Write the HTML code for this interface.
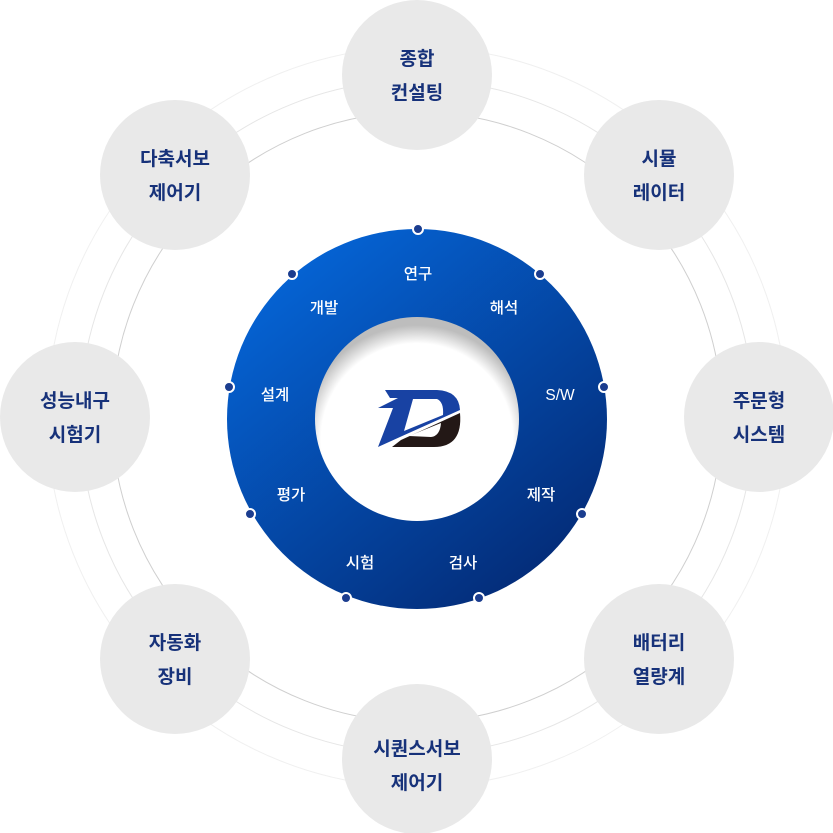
<!DOCTYPE html>
<html><head><meta charset="utf-8"><style>
html,body{margin:0;padding:0;background:#fff;width:833px;height:833px;overflow:hidden}
svg{display:block}
.s{font-family:"Liberation Sans","Noto Sans CJK KR",sans-serif;font-weight:700;font-size:19px;fill:#17327a;text-anchor:middle}
.w{font-family:"Liberation Sans","Noto Sans CJK KR",sans-serif;font-weight:500;font-size:15.5px;fill:#fff;text-anchor:middle}
</style></head><body>
<svg width="833" height="833" viewBox="0 0 833 833">
<defs>
<linearGradient id="g" x1="0.2" y1="0.1" x2="0.85" y2="0.9">
<stop offset="0" stop-color="#0562d2"/><stop offset="1" stop-color="#042c78"/>
</linearGradient>
<radialGradient id="sh" cx="0.5" cy="0.6" r="0.56">
<stop offset="0.84" stop-color="#fff"/><stop offset="1" stop-color="#bdbdbd"/>
</radialGradient>
</defs>
<g fill="none">
<circle cx="417" cy="417" r="370" stroke="#f0f0f0" stroke-width="1"/>
<circle cx="417" cy="417" r="337" stroke="#e6e6e6" stroke-width="1"/>
<circle cx="417" cy="417" r="305" stroke="#cfcfcf" stroke-width="1"/>
</g>
<g fill="#e9e9e9">
<circle cx="417" cy="75" r="75"/>
<circle cx="659" cy="175" r="75"/>
<circle cx="759" cy="417" r="75"/>
<circle cx="659" cy="659" r="75"/>
<circle cx="417" cy="759" r="75"/>
<circle cx="175" cy="659" r="75"/>
<circle cx="75" cy="417" r="75"/>
<circle cx="175" cy="175" r="75"/>
</g>
<g class="s">
<text x="417" y="65">종합</text><text x="417" y="99">컨설팅</text>
<text x="659" y="165">시뮬</text><text x="659" y="199">레이터</text>
<text x="759" y="407">주문형</text><text x="759" y="441">시스템</text>
<text x="659" y="649">배터리</text><text x="659" y="683">열량계</text>
<text x="417" y="755">시퀀스서보</text><text x="417" y="789">제어기</text>
<text x="175" y="649">자동화</text><text x="175" y="683">장비</text>
<text x="75" y="407">성능내구</text><text x="75" y="441">시험기</text>
<text x="175" y="165">다축서보</text><text x="175" y="199">제어기</text>
</g>
<circle cx="417" cy="419" r="190" fill="url(#g)"/>
<circle cx="417" cy="419" r="102" fill="url(#sh)"/>
<g fill="#1b3d8f" stroke="#fff" stroke-width="2">
<circle cx="418" cy="229" r="5"/><circle cx="540" cy="274" r="5"/><circle cx="604" cy="387" r="5"/>
<circle cx="582" cy="514" r="5"/><circle cx="479" cy="598" r="5"/><circle cx="346" cy="598" r="5"/>
<circle cx="250" cy="514" r="5"/><circle cx="229" cy="387" r="5"/><circle cx="292" cy="274" r="5"/>
</g>
<g class="w">
<text x="418" y="279">연구</text><text x="504" y="313">해석</text><text x="560" y="400">S/W</text>
<text x="541" y="500">제작</text><text x="463" y="568">검사</text><text x="360" y="568">시험</text>
<text x="291" y="500">평가</text><text x="275" y="400">설계</text><text x="324" y="313">개발</text>
</g>
<g>
<path d="M392 447 L401 440 L460 413 Q463 447 434 447 Z" fill="#231816"/>
<path d="M409 436 L441 423 Q440 436 431 437 Z" fill="#fff"/>
<path d="M385 390 L437 390 Q459 391 460 410 L400 437 L378 447 L393 408 L378 408 L398 398 L390 398 Z" fill="#1842a3"/>
<path d="M413 399 L437 399 Q444 402 443 415 L404 431 Z" fill="#fff"/>
</g>
</svg>
</body></html>
